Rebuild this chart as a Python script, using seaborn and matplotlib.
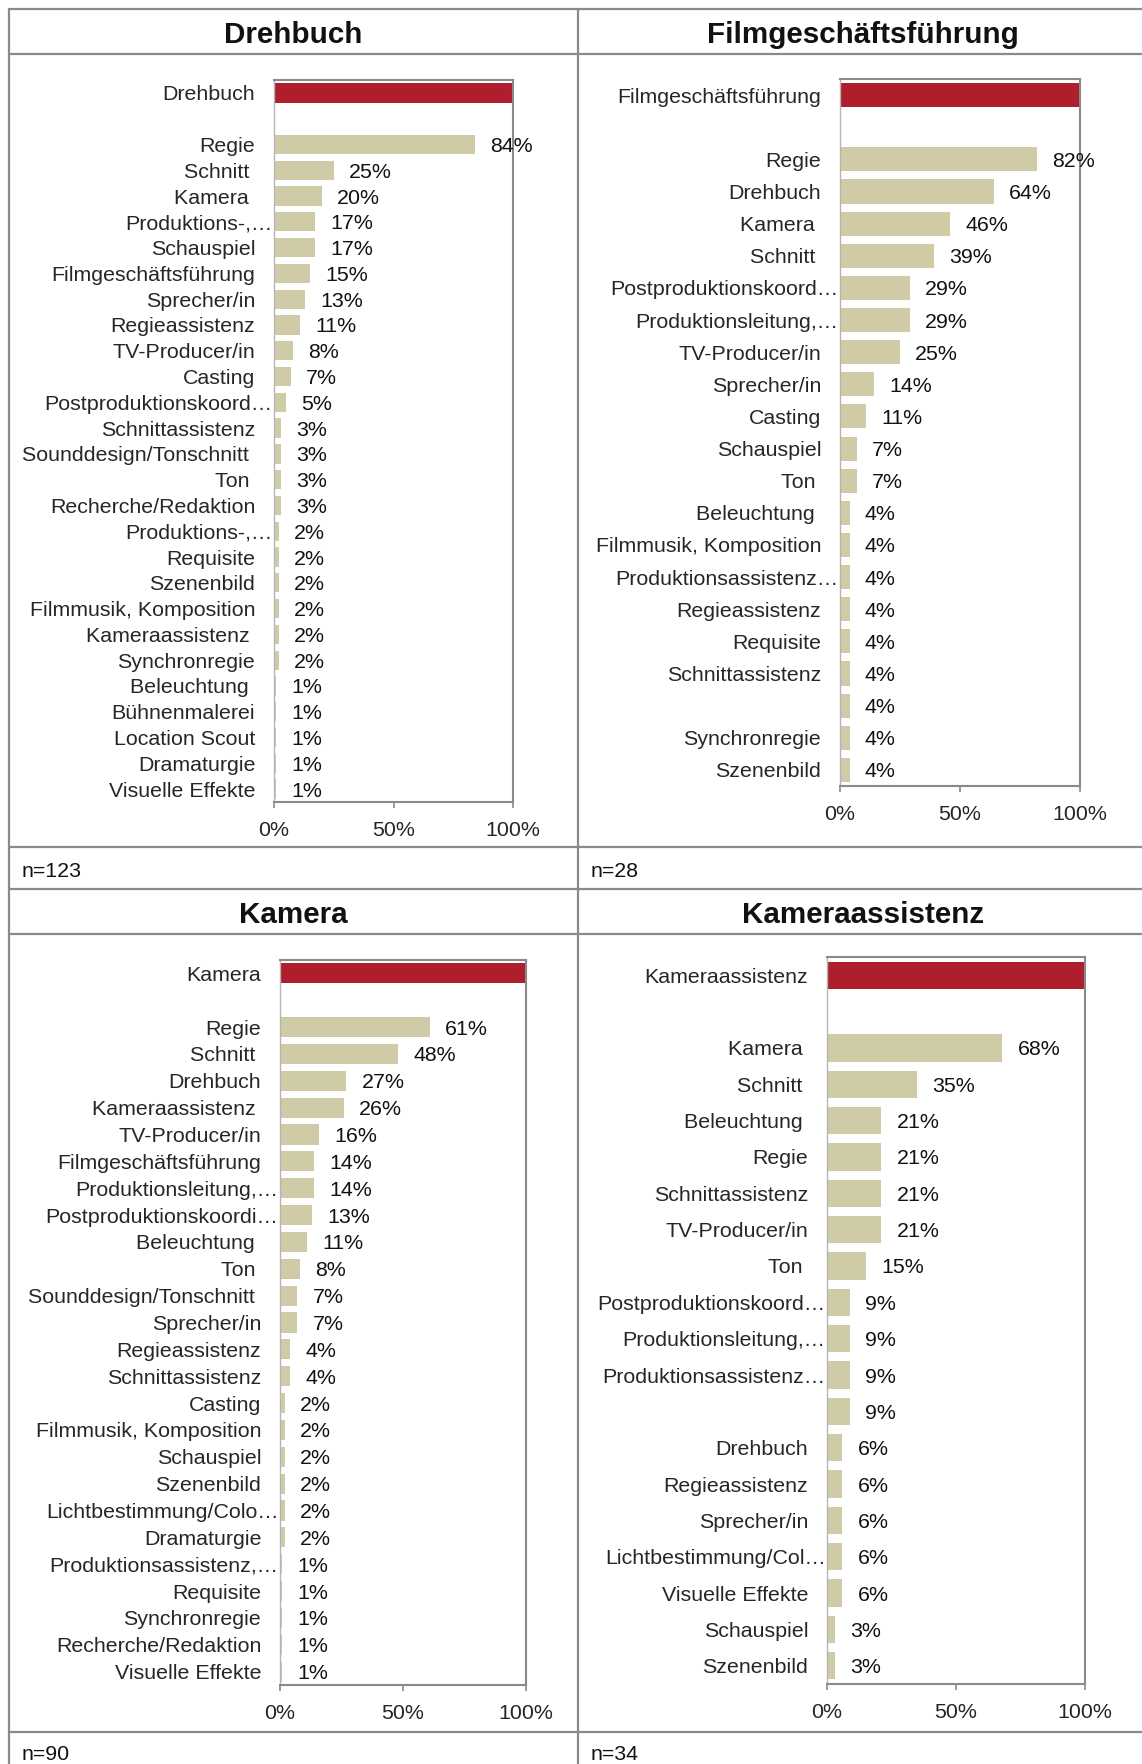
import matplotlib
matplotlib.use("Agg")
import matplotlib.pyplot as plt
from matplotlib.lines import Line2D
import seaborn as sns
import pandas as pd

# data: one block per panel, the panel's own group first (drawn red)
drehbuch_title = "Drehbuch"
drehbuch_n = 123
drehbuch_labels = ["Regie", "Schnitt ", "Kamera ", "Produktions-,…", "Schauspiel",
                   "Filmgeschäftsführung", "Sprecher/in", "Regieassistenz", "TV-Producer/in",
                   "Casting", "Postproduktionskoord…", "Schnittassistenz",
                   "Sounddesign/Tonschnitt ", "Ton ", "Recherche/Redaktion", "Produktions-,…",
                   "Requisite", "Szenenbild", "Filmmusik, Komposition", "Kameraassistenz ",
                   "Synchronregie", "Beleuchtung ", "Bühnenmalerei", "Location Scout",
                   "Dramaturgie", "Visuelle Effekte"]
drehbuch_values = [84, 25, 20, 17, 17, 15, 13, 11, 8, 7, 5, 3, 3, 3, 3, 2, 2, 2, 2, 2, 2,
                   1, 1, 1, 1, 1]

fgf_title = "Filmgeschäftsführung"
fgf_n = 28
fgf_labels = ["Regie", "Drehbuch", "Kamera ", "Schnitt ", "Postproduktionskoord…",
              "Produktionsleitung,…", "TV-Producer/in", "Sprecher/in", "Casting", "Schauspiel",
              "Ton ", "Beleuchtung ", "Filmmusik, Komposition", "Produktionsassistenz…",
              "Regieassistenz", "Requisite", "Schnittassistenz", "", "Synchronregie",
              "Szenenbild"]
fgf_values = [82, 64, 46, 39, 29, 29, 25, 14, 11, 7, 7, 4, 4, 4, 4, 4, 4, 4, 4, 4]

kamera_title = "Kamera"
kamera_n = 90
kamera_labels = ["Regie", "Schnitt ", "Drehbuch", "Kameraassistenz ", "TV-Producer/in",
                 "Filmgeschäftsführung", "Produktionsleitung,…", "Postproduktionskoordi…",
                 "Beleuchtung ", "Ton ", "Sounddesign/Tonschnitt ", "Sprecher/in",
                 "Regieassistenz", "Schnittassistenz", "Casting", "Filmmusik, Komposition",
                 "Schauspiel", "Szenenbild", "Lichtbestimmung/Colo…", "Dramaturgie",
                 "Produktionsassistenz,…", "Requisite", "Synchronregie", "Recherche/Redaktion",
                 "Visuelle Effekte"]
kamera_values = [61, 48, 27, 26, 16, 14, 14, 13, 11, 8, 7, 7, 4, 4, 2, 2, 2, 2, 2, 2,
                 1, 1, 1, 1, 1]

kass_title = "Kameraassistenz"
kass_n = 34
kass_labels = ["Kamera ", "Schnitt ", "Beleuchtung ", "Regie", "Schnittassistenz",
               "TV-Producer/in", "Ton ", "Postproduktionskoord…", "Produktionsleitung,…",
               "Produktionsassistenz…", "", "Drehbuch", "Regieassistenz", "Sprecher/in",
               "Lichtbestimmung/Col…", "Visuelle Effekte", "Schauspiel", "Szenenbild"]
kass_values = [68, 35, 21, 21, 21, 21, 15, 9, 9, 9, 9, 6, 6, 6, 6, 6, 3, 3]

RED = "#AF1E2D"
BEIGE = "#D0CBA7"
GRID = "#8a8a8a"
W, H = 1142, 1764
FS = 15.4

sns.set_style("white")
plt.rcParams["font.family"] = ["Liberation Sans", "DejaVu Sans"]

fig = plt.figure(figsize=(W / 100, H / 100), dpi=100)


def fig_box(left, top, right, bottom):
    return [left / W, 1 - bottom / H, (right - left) / W, (bottom - top) / H]


def draw_panel(box, title, labels, values):
    ax = fig.add_axes(fig_box(*box))
    # own group at slot 0, one empty slot, then the others
    df = pd.DataFrame({
        "slot": [0] + [i + 2 for i in range(len(labels))],
        "label": [title] + labels,
        "value": [100] + values,
        "kind": ["self"] + ["other"] * len(labels),
    })
    sns.barplot(data=df, x="value", y="slot", hue="kind", orient="h", native_scale=True,
                palette={"self": RED, "other": BEIGE}, dodge=False, width=0.75,
                legend=False, ax=ax, saturation=1, linewidth=0)
    n_slots = df["slot"].max() + 1
    ax.set_ylim(n_slots - 0.5, -0.5)
    ax.set_xlim(0, 100)
    ax.set_xticks([0, 50, 100])
    ax.set_xticklabels(["0%", "50%", "100%"])
    ax.set_yticks(df["slot"])
    ax.set_yticklabels(df["label"])
    ax.set_xlabel("")
    ax.set_ylabel("")
    ax.tick_params(axis="x", direction="out", length=4.5, width=1.2, color=GRID,
                   pad=9, labelsize=FS, bottom=True)
    ax.tick_params(axis="y", length=0, pad=13.5, labelsize=FS, left=False)
    for tick, lab in zip(ax.yaxis.get_major_ticks(), df["label"]):
        if lab.endswith("…"):
            tick.set_pad(1)
    for name, sp in ax.spines.items():
        sp.set_visible(True)
        sp.set_color(GRID)
        sp.set_linewidth(1.5)
    ax.spines["left"].set_color("#b5b5b5")
    ax.spines["left"].set_linewidth(1.0)
    for s, v, k in zip(df["slot"], df["value"], df["kind"]):
        if k == "other":
            ax.annotate(f"{v}%", (v, s), xytext=(11, 0), textcoords="offset points",
                        va="center_baseline", ha="left", fontsize=FS, color="#111111")
    return ax


draw_panel((274, 80, 513, 802), drehbuch_title, drehbuch_labels, drehbuch_values)
draw_panel((840, 79, 1080, 786), fgf_title, fgf_labels, fgf_values)
draw_panel((280, 960, 526, 1685), kamera_title, kamera_labels, kamera_values)
draw_panel((827, 957, 1085, 1684), kass_title, kass_labels, kass_values)

# table grid around the panels
for y in [9, 54, 847, 889, 934, 1732]:
    fig.add_artist(Line2D([9 / W, 1.0], [1 - y / H, 1 - y / H], color=GRID, lw=1.6))
for x in [9, 578]:
    fig.add_artist(Line2D([x / W, x / W], [0, 1 - 9 / H], color=GRID, lw=1.6))

titles = [(293, 35, drehbuch_title), (863, 35, fgf_title),
          (293, 915, kamera_title), (863, 915, kass_title)]
for x, y, t in titles:
    fig.text(x / W, 1 - y / H, t, ha="center", va="center", fontsize=21.3,
             fontweight="bold", color="#111111")

for x, y, n in [(22, 872, drehbuch_n), (591, 872, fgf_n), (22, 1755, kamera_n),
                (591, 1755, kass_n)]:
    fig.text(x / W, 1 - y / H, f"n={n}", ha="left", va="center", fontsize=FS,
             color="#111111")

fig.savefig("out.png", dpi=100)
